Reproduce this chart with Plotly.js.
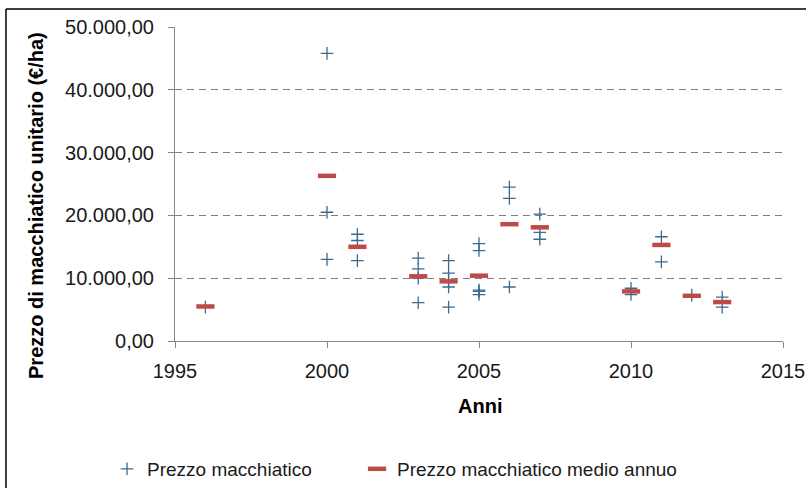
<!DOCTYPE html>
<html>
<head>
<meta charset="utf-8">
<script src="https://cdn.plot.ly/plotly-3.0.1.min.js"></script>
<style>html,body{margin:0;padding:0;background:#fff;}#chart{width:806px;height:488px;}</style>
</head>
<body>
<div id="chart"></div>
<script>
// Individual prices (Prezzo macchiatico)
const priceYears = [1996, 2000, 2000, 2000, 2001, 2001, 2001,
  2003, 2003, 2003, 2003,
  2004, 2004, 2004, 2004, 2004,
  2005, 2005, 2005, 2005, 2005,
  2006, 2006, 2006,
  2007, 2007, 2007,
  2010, 2010,
  2011, 2011,
  2012,
  2013, 2013];
const priceValues = [5400, 45800, 20500, 13000, 17000, 16000, 12800,
  13200, 11500, 10000, 6100,
  12800, 10800, 9500, 8600, 5400,
  15500, 14400, 8100, 7900, 7400,
  24500, 22700, 8600,
  20200, 17300, 16200,
  8400, 7400,
  16600, 12600,
  7300,
  7000, 5400];

// Yearly mean (Prezzo macchiatico medio annuo)
const meanYears = [1996, 2000, 2001, 2003, 2004, 2005, 2006, 2007, 2010, 2011, 2012, 2013];
const meanValues = [5500, 26300, 15000, 10300, 9500, 10400, 18600, 18100, 7900, 15300, 7200, 6200];

const seriesNames = ["Prezzo macchiatico", "Prezzo macchiatico medio annuo"];
const xTitle = "Anni";
const yTitle = "Prezzo di macchiatico unitario (€/ha)";

const FONT = "Liberation Sans, Arial, sans-serif";

const traces = [
  {
    x: priceYears, y: priceValues, type: "scatter", mode: "markers",
    name: seriesNames[0], legendwidth: 205,
    marker: {symbol: "cross-thin", size: 9, color: "#3d6a8f",
      line: {color: "#3d6a8f", width: 1.3}}
  },
  {
    x: meanYears, y: meanValues, type: "scatter", mode: "markers",
    name: seriesNames[1], legendwidth: 300,
    marker: {symbol: "line-ew", size: 13, color: "#be4b48",
      line: {color: "#be4b48", width: 4.5}}
  }
];

const layout = {
  width: 806, height: 488,
  margin: {l: 175, r: 23, t: 27, b: 147, pad: 0},
  paper_bgcolor: "#ffffff", plot_bgcolor: "#ffffff",
  separators: ",.",
  font: {family: FONT, size: 19, color: "#1a1a1a"},
  showlegend: true,
  legend: {
    orientation: "h", xref: "container", yref: "container",
    x: 0.1328, xanchor: "left", y: 0.039, yanchor: "middle",
    font: {family: FONT, size: 19, color: "#1a1a1a"},
    bgcolor: "rgba(0,0,0,0)", borderwidth: 0, traceorder: "normal"
  },
  xaxis: {
    range: [1995, 2015], tickmode: "linear", tick0: 1995, dtick: 5,
    showgrid: false, zeroline: false,
    showline: true, linecolor: "#868686", linewidth: 1,
    ticks: "outside", ticklen: 6, tickcolor: "#868686", tickwidth: 1,
    ticklabelstandoff: 6,
    tickfont: {family: FONT, size: 20, color: "#1a1a1a"},
    fixedrange: true
  },
  yaxis: {
    range: [0, 50000], tickmode: "linear", tick0: 0, dtick: 10000,
    tickformat: ",.2f",
    showgrid: true, gridcolor: "#7f7f7f", gridwidth: 1, griddash: "7px,5px",
    zeroline: false,
    showline: true, linecolor: "#868686", linewidth: 1,
    ticks: "outside", ticklen: 6, tickcolor: "#868686", tickwidth: 1,
    ticklabelstandoff: 10,
    tickfont: {family: FONT, size: 20, color: "#1a1a1a"},
    fixedrange: true
  },
  annotations: [
    {text: "<b>" + xTitle + "</b>", xref: "paper", yref: "paper",
      x: 0.5016, y: -0.207, xanchor: "center", yanchor: "middle", showarrow: false,
      font: {family: FONT, size: 20, color: "#000"}},
    {text: "<b>" + yTitle + "</b>", xref: "paper", yref: "paper",
      x: -0.2286, y: 0.43, xanchor: "center", yanchor: "middle", showarrow: false,
      textangle: -90, font: {family: FONT, size: 20, color: "#000"}}
  ],
  shapes: [
    {type: "line", xref: "paper", yref: "paper", x0: -0.278, y0: -0.5, x1: -0.278, y1: 1.0573,
      line: {color: "#000", width: 1.5}},
    {type: "line", xref: "paper", yref: "paper", x0: -0.278, y0: 1.0573, x1: 1.1, y1: 1.0573,
      line: {color: "#000", width: 1.5}}
  ]
};

Plotly.newPlot("chart", traces, layout, {displayModeBar: false, staticPlot: true});
</script>
</body>
</html>
